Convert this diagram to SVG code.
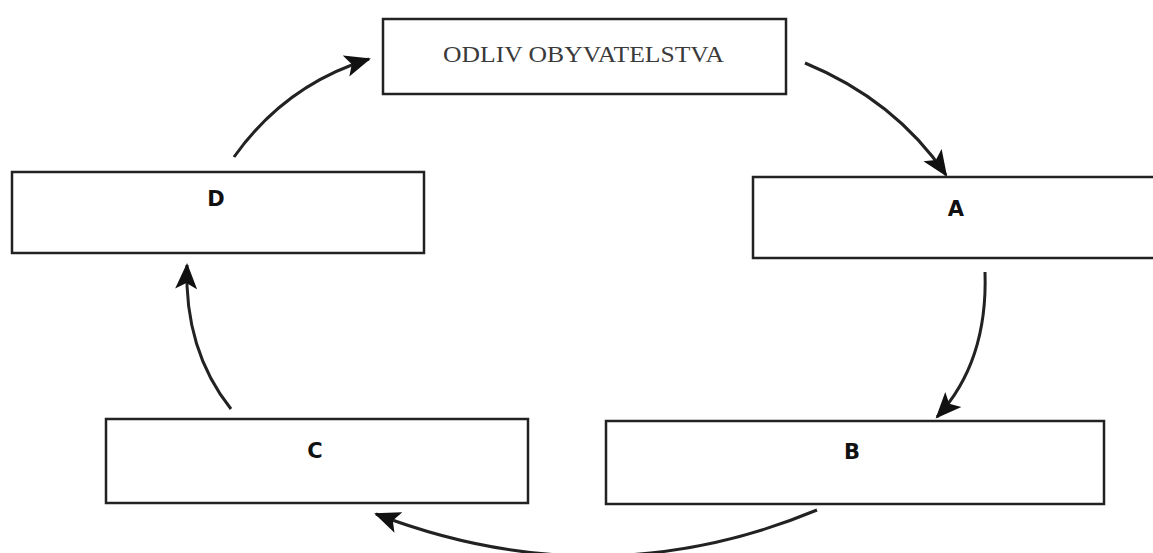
<svg xmlns="http://www.w3.org/2000/svg" width="1153" height="553" viewBox="0 0 1153 553">
<style>
.box{fill:#fff;stroke:#222;stroke-width:2.5}
.lbl{font-family:"DejaVu Sans",Verdana,sans-serif;font-weight:bold;font-size:21px;fill:#111;text-anchor:middle}
.title{font-family:"Liberation Serif","Times New Roman",serif;font-size:23px;fill:#3a3a3a;text-anchor:start}
.arr{fill:none;stroke:#222;stroke-width:3;marker-end:url(#ah)}
</style>
<defs>
<marker id="ah" markerUnits="userSpaceOnUse" markerWidth="28" markerHeight="24" refX="24" refY="12" orient="auto">
<path d="M0,1 L26,12 L0,23 L6,12 Z" fill="#111"/>
</marker>
</defs>
<rect width="1153" height="553" fill="#fff"/>
<g id="connectors">
<path class="arr" d="M805,63 Q895,100 946,175"/>
<path class="arr" d="M985,272 Q988,362 937,417"/>
<path class="arr" d="M817,510 Q600,600 376,514"/>
<path class="arr" d="M231,409 Q184,350 187,265"/>
<path class="arr" d="M234,157 Q285,85 369,59"/>
</g>
<g id="node-top">
<rect class="box" x="383" y="19" width="403" height="75"/>
<text class="title" x="443" y="62" textLength="281" lengthAdjust="spacingAndGlyphs">ODLIV OBYVATELSTVA</text>
</g>
<g id="node-a">
<rect class="box" x="753" y="177" width="410" height="81"/>
<text class="lbl" x="956" y="216">A</text>
</g>
<g id="node-b">
<rect class="box" x="606" y="421" width="498" height="83"/>
<text class="lbl" x="852" y="459">B</text>
</g>
<g id="node-c">
<rect class="box" x="106" y="419" width="422" height="84"/>
<text class="lbl" x="315" y="458">C</text>
</g>
<g id="node-d">
<rect class="box" x="12" y="172" width="412" height="81"/>
<text class="lbl" x="216" y="206">D</text>
</g>
</svg>
